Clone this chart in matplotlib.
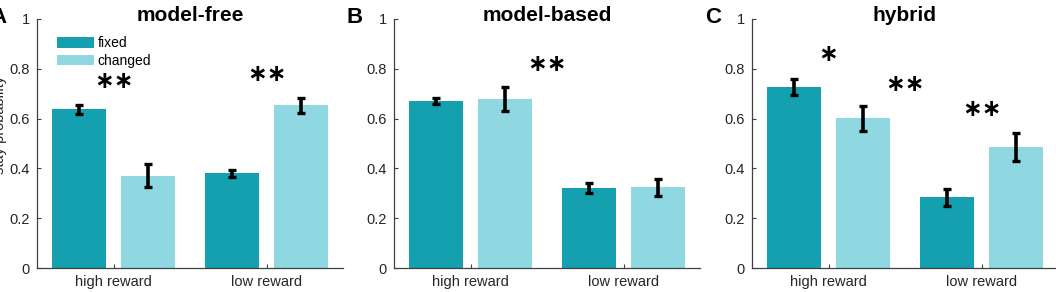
import numpy as np
import matplotlib
matplotlib.use('Agg')
import matplotlib.pyplot as plt

plt.rcParams['font.family'] = ['Liberation Sans', 'DejaVu Sans']

# data
groups = ['high reward', 'low reward']
conditions = ['fixed', 'changed']
panels = ['model-free', 'model-based', 'hybrid']
letters = ['A', 'B', 'C']

fixed_mean = [[0.638, 0.381], [0.671, 0.323], [0.728, 0.284]]
fixed_err = [[0.018, 0.014], [0.013, 0.020], [0.032, 0.034]]
changed_mean = [[0.371, 0.654], [0.677, 0.324], [0.601, 0.486]]
changed_err = [[0.046, 0.030], [0.048, 0.035], [0.050, 0.058]]

# significance marks: (x position, y position, label)
stars = [
    [(1.0, 0.75, '∗∗'), (2.0, 0.78, '∗∗')],
    [(1.5, 0.82, '∗∗')],
    [(1.0, 0.86, '∗'), (1.5, 0.74, '∗∗'), (2.0, 0.64, '∗∗')],
]

col_fixed = '#14A0AE'
col_changed = '#8FD8E2'
spine_col = '#404040'

W, H = 1056, 292
fig = plt.figure(figsize=(W / 100, H / 100), dpi=100)

lefts = [37, 394, 752]
bottom = (H - 268) / H
height = 249 / H
width = 306 / W

x = np.arange(1, len(groups) + 1)
bw = 0.35
off = 0.224

for i in range(3):
    ax = fig.add_axes([lefts[i] / W, bottom, width, height])
    ax.bar(x - off, fixed_mean[i], bw, color=col_fixed, label=conditions[0], zorder=2)
    ax.bar(x + off, changed_mean[i], bw, color=col_changed, label=conditions[1], zorder=2)
    ax.errorbar(x - off, fixed_mean[i], yerr=fixed_err[i], fmt='none', ecolor='black',
                elinewidth=2.6, capsize=3, capthick=2.4, zorder=3)
    ax.errorbar(x + off, changed_mean[i], yerr=changed_err[i], fmt='none', ecolor='black',
                elinewidth=2.6, capsize=3, capthick=2.4, zorder=3)
    for sx, sy, s in stars[i]:
        ax.text(sx, sy, s, ha='center', va='center', fontsize=17, fontweight='bold',
                family='DejaVu Sans', color='black')

    ax.set_xlim(0.5, 2.5)
    ax.set_ylim(0, 1)
    ax.set_xticks(x)
    ax.set_xticklabels(groups)
    ax.set_yticks([0, 0.2, 0.4, 0.6, 0.8, 1])
    ax.set_yticklabels(['0', '0.2', '0.4', '0.6', '0.8', '1'])
    ax.tick_params(direction='in', length=3, width=0.8, colors=spine_col,
                   labelsize=10.5, labelcolor='#262626', pad=5)
    for s in ['top', 'right']:
        ax.spines[s].set_visible(False)
    for s in ['left', 'bottom']:
        ax.spines[s].set_color(spine_col)
        ax.spines[s].set_linewidth(0.9)
    ax.text(0.5, 1 - 2 / 249, panels[i], transform=ax.transAxes, fontsize=15,
            fontweight='bold', ha='center', va='baseline')
    fig.text((lefts[i] - 47) / W, (H - 23) / H, letters[i], fontsize=16,
             fontweight='bold', ha='left', va='baseline')
    if i == 0:
        ax.legend(loc='upper left', bbox_to_anchor=(0.035, 0.97), frameon=False,
                  fontsize=10, handlelength=2.6, handleheight=0.8,
                  handletextpad=0.3, labelspacing=0.25, borderaxespad=0.3)

fig.text(7 / W, (H - 125) / H, 'stay probability', rotation=90, ha='right',
         va='center', fontsize=10.5, color='#262626')

fig.savefig('out.png', dpi=100)
